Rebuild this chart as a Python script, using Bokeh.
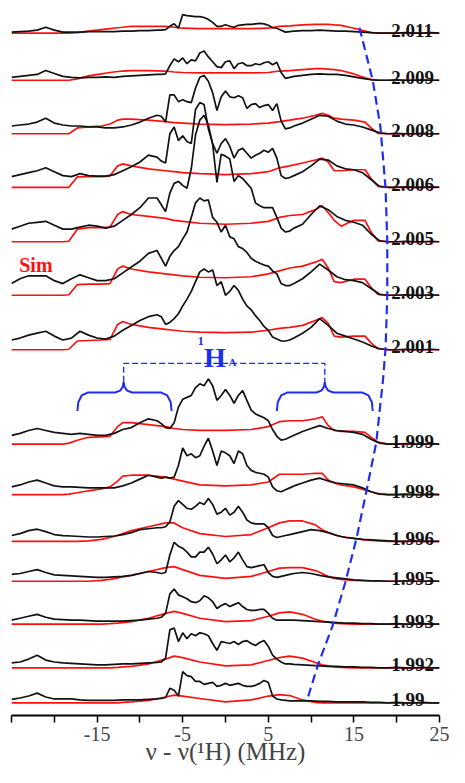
from bokeh.plotting import figure
from bokeh.models import Range1d, FixedTicker, ColumnDataSource
from bokeh.core.properties import value
from bokeh.embed import file_html
from bokeh.resources import INLINE

# ---------------- data ----------------
G_LABELS = ["2.011", "2.009", "2.008", "2.006", "2.005", "2.003", "2.001",
            "1.999", "1.998", "1.996", "1.995", "1.993", "1.992", "1.99"]

# vertical offset (baseline) of each stacked spectrum
OFFSETS = [701.5, 653, 598, 543, 487, 432, 376, 279, 227, 179, 138, 94, 49, 13]

# frequency grid of the experimental traces (MHz)
X_EXP = ([-25, -24, -23, -22, -21, -20, -19, -18, -17, -16, -15, -14, -13, -12, -11, -10, -9] +
         [-8, -7.5, -7, -6.5, -6, -5.5, -5, -4.5, -4, -3.5, -3, -2.5, -2, -1.5, -1, -0.5, 0,
          0.5, 1, 1.5, 2, 2.5, 3, 3.5, 4, 4.5, 5, 5.5, 6, 6.5, 7, 7.5, 8] +
         [9, 10, 11, 12, 13, 14, 15, 16, 17, 18, 19, 20, 21, 22, 23, 24, 25])

EXP = {
    "2.011": [1, 1.5, 2, 3, 6, 3, 1, 1, 1, 1.5, 1.5, 1.5, 1.5, 2, 2, 2.5, 2.5,
              3, 3, 3.5, 7, 9.5, 5, 19, 18, 17.5, 17, 17, 16, 14, 11, 7, 7, 8.5, 7, 6, 8, 8.5, 9, 9, 9.5, 10, 9.5, 8, 5.5, 5, 3, 1, 1.5, 2,
              2.5, 2.5, 3, 2.5, 2, 2, 1.5, 1, 0.5, 0, 0, 0, 0.5, 0, 0, 0.5, 0],
    "2.009": [3, 4, 5, 6, 10, 7, 4, 3, 2.5, 3, 3, 3.5, 3, 4, 4.5, 5, 5.5,
              6, 6, 6.5, 15, 22, 19, 23, 17, 21, 20, 28, 30, 24, 19, 14, 13, 19, 20, 12, 17, 18, 15, 15, 17, 16, 18, 19, 16, 18.5, 8, 2, 3, 4,
              5, 6, 6.5, 6, 6, 5, 3.5, 2, 0.5, 0, 0, 0.5, 0, 0, 0.5, 0, 0],
    "2.008": [8, 9, 10, 12, 16, 11, 9, 8, 8, 7, 7, 6, 6, 7, 9, 12, 16,
              19, 18, 12, 40, 40, 33, 35, 33, 32, 47, 58, 60, 54, 42, 24, 38, 44, 38, 37, 39, 37, 26, 30, 31, 27, 29, 30, 24, 31, 13, 5, 6, 8,
              11, 15, 19, 18, 13, 10, 9, 7, 4, 1, 0, 0.5, 0, 0, 0.5, 0, 0],
    "2.006": [11, 13, 15, 17, 20, 16, 12, 11, 14, 12, 11.5, 11.5, 13, 17, 21, 26, 33,
              31, 27, 25, 55, 62, 48, 53, 47, 45, 80, 87, 85, 60, 45, 35, 45, 50, 42, 30, 38, 40, 35, 30, 33, 35, 38, 36, 40, 30, 12, 9, 10, 12,
              16, 22, 29, 28, 22, 19, 18, 15, 8, 1, 0, 0, 0.5, 0, 0, 0.5, 0],
    "2.005": [13, 16, 19, 20, 21, 17, 13, 13, 15, 17, 16, 14, 16, 22, 28, 35, 45,
              45, 38, 31, 50, 60, 62, 58, 55, 75, 110, 125, 130, 120, 100, 61, 90, 88, 85, 62, 68, 65, 60, 55, 40, 37, 35, 35, 35, 25, 14, 10, 11, 14,
              18, 28, 37, 33, 26, 22, 20, 17, 8, 1, 0, 0, 0.5, 0, 0, 0.5, 0],
    "2.003": [12, 17, 20, 20, 20, 15, 12, 17, 21, 18, 15, 15, 17, 23, 29, 35, 43,
              46, 38, 30, 40, 46, 50, 58, 65, 80, 95, 100, 97, 98, 80, 75, 65, 72, 60, 58, 50, 48, 44, 38, 35, 33, 31, 30, 25, 22, 12, 10, 10, 12,
              17, 24, 32, 26, 19, 16, 15, 13, 7, 1, 0, 0, 0.5, 0, 0, 0.5, 0],
    "2.001": [10, 12, 15, 17, 19, 14, 10, 12, 19, 15, 12, 11, 14, 20, 25, 30, 34,
              36, 34, 26, 28, 32, 37, 45, 52, 60, 70, 80, 83, 80, 82, 66, 70, 56, 60, 66, 61, 52, 45, 41, 35, 30, 24, 20, 13, 11, 9, 9, 10, 12,
              17, 23, 32, 25, 17, 14, 11, 8, 4, 1, 0, 0, 0.5, 0, 0, 0.5, 0],
    "1.999": [9, 11, 14, 16, 14, 12, 11, 10, 11, 10, 9, 9, 11, 15, 17, 22, 26,
              24, 21, 17, 16, 22, 38, 46, 48, 50, 58, 62, 60, 67, 60, 45, 50, 56, 50, 42, 50, 55, 45, 35, 31, 29, 27, 24, 15, 8, 4, 5, 7, 9,
              13, 16, 19, 16, 14, 13, 12, 10, 5, 1, 0, 0, 0.5, 0, 0, 0.5, 0],
    "1.998": [8, 10, 13, 15, 12, 9, 8, 8, 7.5, 7, 7, 7, 7, 9, 12, 16, 20,
              18, 17, 18, 17, 18, 30, 48, 40, 42, 38, 40, 50, 58, 45, 30, 45, 43, 40, 32, 45, 42, 30, 25, 23, 22, 21, 18, 8, 4, 3, 5, 7, 9,
              12, 15, 17, 14, 12, 11, 10, 7, 3, 0.5, 0, 0, 0.5, 0, 0, 0.5, 0],
    "1.996": [6, 8, 11, 12.5, 10, 7, 6, 5.5, 5, 4.5, 4.5, 5, 5.5, 7, 9, 12, 13,
              14, 14, 15, 20, 36, 42, 38, 34, 33, 36, 40, 38, 44, 38, 28, 30, 34, 27, 30, 36, 30, 22, 19, 18, 18, 18, 14, 6, 4, 5, 6, 7, 8,
              10, 12, 11, 9, 6, 4, 3, 2, 1.5, 1, 0.5, 0, 0, 0.5, 0, 0, 0],
    "1.995": [7, 8, 10, 12, 9, 6.5, 6, 5.5, 5, 4.5, 4, 4, 4.5, 5, 6, 8, 10,
              9, 8, 9, 27, 40, 36, 34, 30, 25, 25, 30, 30, 35, 28, 18, 22, 27, 20, 24, 30, 22, 15, 14, 15, 16, 17, 9, 5, 4, 5, 6, 7, 8,
              9, 8, 6, 4.5, 3.5, 2.5, 1.5, 1, 0.5, 0.5, 0, 0, 0.5, 0, 0, 0.5, 0],
    "1.993": [4, 6, 8, 10, 7, 5, 4.5, 4, 4, 3.5, 3, 3, 3, 3, 3.5, 4, 5,
              6, 7, 11, 31, 36, 30, 28, 26, 23, 22, 24, 29, 27, 23, 16, 19, 21, 18, 20, 22, 18, 15, 14, 14, 15, 15, 11, 6, 4, 4, 4, 4, 4,
              3.5, 3, 2.5, 2, 1.5, 1, 1, 0.5, 0.5, 0, 0, 0.5, 0, 0, 0.5, 0, 0],
    "1.992": [5, 6, 9, 13, 8, 6, 5, 4.5, 4, 3.5, 3, 3, 3.5, 4, 4, 4.5, 5,
              5.5, 6, 10, 39, 41, 27, 36, 30, 35, 33, 36, 35, 33, 25, 18, 27, 26, 25, 27, 24, 27, 28, 25, 23, 26, 28, 22, 13, 9, 6, 4, 4, 3.5,
              3, 2.5, 2, 1.5, 1.5, 1, 1, 0.5, 0.5, 0, 0, 0.5, 0, 0, 0.5, 0, 0],
    "1.99": [3.5, 5, 7, 10, 6, 4, 4, 4, 3, 2.5, 2.5, 2.5, 2.5, 3, 3, 3, 3.5,
             4, 4.5, 5.5, 15, 13, 7, 32, 28, 27, 22, 22, 19, 20, 21, 17, 18, 20, 18, 19, 20, 18, 17, 17, 18, 20, 23, 21, 7, 4, 3, 2.5, 2, 2,
             2, 2, 1.5, 1.5, 1, 1, 1, 1, 0.5, 0.5, 0, 0.5, 0, 0, 0.5, 0, 0],
}

# frequency knots of the simulated traces (MHz)
X_SIM = [-25, -19, -18.3, -17.3, -16, -14.5, -13.5, -12.6, -12, -11, -9, -7, -6, -5, -3, 0,
         3, 5, 6.3, 7.5, 9, 10.5, 11.3, 12, 12.7, 13.5, 15, 16.3, 17, 17.8, 19, 25]

SIM = {
    "2.011": [0, 0, 0, 0.5, 2, 3.5, 4.5, 5.5, 6, 7, 7, 7, 6, 5, 4.5, 4.5, 4.5, 5, 7, 7.5, 8.5, 9, 9, 9, 8.5, 8, 5, 2, 0.5, 0, 0, 0],
    "2.009": [0, 0, 0, 1.5, 4.5, 6.5, 8, 9, 9.5, 10, 10, 9.5, 8.5, 8, 7.5, 7.5, 7.5, 8, 9.5, 10, 11, 12, 12, 11.5, 11, 10, 6.5, 2.5, 1, 0, 0, 0],
    "2.008": [0, 0, 0, 6, 7, 8, 10, 14, 15, 15, 14, 12.5, 11.5, 11, 10, 9.5, 10, 11, 12.5, 14, 16, 19, 21, 19, 16, 15, 14, 12, 6, 0.5, 0, 0],
    "2.006": [0, 0, 0, 10.7, 11, 11, 11.5, 22, 24, 22, 19, 17, 16, 15, 14, 13, 14, 16, 20, 22, 25, 28, 30, 26, 17, 17, 18, 18, 9, 1, 0, 0],
    "2.005": [0, 0, 0.5, 13, 14.5, 14.5, 15, 28, 31, 28, 26, 24, 22, 21, 19, 18, 19, 21, 25, 27, 28, 33, 37, 30, 22, 16, 22, 22, 10, 1, 0, 0],
    "2.003": [0, 0, 0.5, 11, 11.5, 11.5, 12, 27, 30, 27, 24, 22, 21, 20, 18.5, 18, 19, 22, 25, 28, 30, 34, 37, 28, 14, 13, 16.5, 16.5, 8, 1, 0, 0],
    "2.001": [0, 0, 0.5, 9, 9.5, 10, 10.5, 26, 29, 26, 23, 21, 20, 19, 18, 17.5, 18, 20, 22, 23, 25, 30, 33, 27, 14, 13, 14, 14, 7, 1, 0, 0],
    "1.999": [0, 0, 1, 4, 7, 7.5, 8, 18, 22, 22, 20, 18, 16, 15, 14, 14, 15, 18, 23, 24, 24, 26, 28, 19, 14, 13, 13, 12, 7, 2, 0, 0],
    "1.998": [0, 0, 0.5, 2, 4, 6, 8, 14, 19, 20, 20, 18, 16, 14, 10, 9, 10, 13, 21, 21, 21, 22, 22, 15, 12, 10, 8, 5, 3, 1, 0, 0],
    "1.996": [0, 0, 0, 0, 0.5, 2, 4, 6, 8, 11, 15, 19, 19, 14, 8, 5, 7, 14, 19, 21, 21, 17, 12, 9, 7, 5, 3, 1.5, 1, 0.5, 0, 0],
    "1.995": [0, 0, 0, 0, 0, 1, 2, 3.5, 4.5, 6, 10, 14, 15, 12, 6, 3, 5, 10, 13.5, 14, 14, 11, 8, 5, 3, 2, 1, 0.5, 0, 0, 0, 0],
    "1.993": [0, 0, 0, 0, 0, 0, 0.5, 1, 1.5, 2.5, 6, 11, 13, 11, 6, 2.5, 3.5, 8, 11.5, 12.5, 10, 5, 3, 2, 1, 0.5, 0, 0, 0, 0, 0, 0],
    "1.992": [0, 0, 0, 0, 0, 0, 0, 0.5, 1, 1.5, 4, 9, 12, 10.5, 6, 2, 3, 7.5, 10.5, 12, 10, 5.5, 3, 2, 1, 0.5, 0, 0, 0, 0, 0, 0],
    "1.99": [0, 0, 0, 0, 0, 0, 0, 0, 0.5, 1, 2.5, 6, 8, 7, 4.5, 1, 3, 7, 8.5, 7.5, 3, 0.5, 0, 0, 0, 0, 0, 0, 0, 0, 0, 0],
}

# onset of the high-frequency edge for each trace (blue dashed guide)
EDGE_MHZ = [15.65, 17.2, 18.1, 18.7, 18.9, 18.9, 18.7, 18.4, 17.6, 16.4, 15.3, 14.0, 12.5, 10.8, 9.5]
EDGE_Y = [707, 653, 605, 542, 487, 432, 378, 345, 280, 228, 182, 137, 92, 52, 15]

# 1H_A coupling bracket: (outer edge, centre, inner edge) of each brace
BRACE_LEFT = [-17.3, -11.9, -6.3]
BRACE_RIGHT = [17.2, 11.6, 6.0]

X_TICKS = [-25, -20, -15, -10, -5, 0, 5, 10, 15, 20, 25]
X_TICK_LABELS = {-25: "", -20: "", -15: "-15", -10: "", -5: "-5", 0: "",
                 5: "5", 10: "", 15: "15", 20: "", 25: "25"}
X_TITLE = "ν - ν(¹H) (MHz)"

BLACK = "#111111"
RED = "#ff1010"
BLUE = "#1f2cf2"
SERIF = "Liberation Serif"

# ---------------- figure ----------------
p = figure(width=449, height=767, x_range=Range1d(-25, 25), y_range=Range1d(0, 735),
           output_backend="svg", toolbar_location=None,
           min_border_left=11, min_border_right=10, min_border_top=0, min_border_bottom=47)
p.xgrid.visible = False
p.ygrid.visible = False
p.yaxis.visible = False
p.outline_line_color = None

xa = p.xaxis[0]
xa.ticker = FixedTicker(ticks=X_TICKS)
xa.major_label_overrides = X_TICK_LABELS
xa.minor_tick_line_color = None
xa.major_tick_out = 7
xa.major_tick_in = 0
xa.axis_line_width = 2
xa.major_tick_line_width = 1.5
xa.major_label_text_font = SERIF
xa.major_label_text_font_size = "20px"
xa.major_label_standoff = 4
xa.axis_label = X_TITLE
xa.axis_label_text_font = SERIF
xa.axis_label_text_font_size = "25px"
xa.axis_label_text_font_style = "normal"
xa.axis_label_standoff = -6

# spectra
for g, off in zip(G_LABELS, OFFSETS):
    p.line(X_SIM, [off + v for v in SIM[g]], line_color=RED, line_width=1.7)
    p.line(X_EXP, [off + v for v in EXP[g]], line_color=BLACK, line_width=1.7)

# blue dashed edge guide
p.line(EDGE_MHZ, EDGE_Y, line_color=BLUE, line_width=2.2, line_dash="9 5")

# braces
tip, bar, foot = 343, 332, 313
def brace(a, c, b):
    xs = [a, a + 0.1, a + 0.5, a + 1.2, c - 1.0, c - 0.4, c - 0.1, c,
          c + 0.1, c + 0.4, c + 1.0, b - 1.2, b - 0.5, b - 0.1, b]
    ys = [foot, foot + 9, bar - 3, bar, bar, bar + 2, bar + 6, tip,
          bar + 6, bar + 2, bar, bar, bar - 3, foot + 9, foot]
    return xs, ys

for br in (BRACE_LEFT, BRACE_RIGHT):
    a, c, b = min(br[0], br[2]), br[1], max(br[0], br[2])
    xs, ys = brace(a, c, b)
    p.line(xs, ys, line_color=BLUE, line_width=2)

# dashed connector of the two brace centres
p.line([BRACE_LEFT[1], BRACE_LEFT[1], BRACE_RIGHT[1], BRACE_RIGHT[1]], [tip, 362, 362, tip],
       line_color=BLUE, line_width=1.4, line_dash="6 3")

# 1H_A label
p.text(x=[-3.25], y=[385], text=["1"], text_color=BLUE, text_font=value(SERIF),
       text_font_style="bold", text_font_size="12px", text_baseline="alphabetic")
p.text(x=[-2.5], y=[368], text=["H"], text_color=BLUE, text_font=value(SERIF),
       text_font_style="bold", text_font_size="28px", text_baseline="alphabetic")
p.text(x=[0.35], y=[363], text=["A"], text_color=BLUE, text_font=value(SERIF),
       text_font_style="bold", text_font_size="11px", text_baseline="alphabetic")

# Sim label
p.text(x=[-24.1], y=[463], text=["Sim"], text_color=RED, text_font=value(SERIF),
       text_font_style="bold", text_font_size="20px", text_baseline="alphabetic")

# g-value labels
lab_src = ColumnDataSource(dict(x=[19.37] * len(G_LABELS), y=[o + 3 for o in OFFSETS], text=G_LABELS))
p.text(x="x", y="y", text="text", source=lab_src, text_color=BLACK, text_font=value(SERIF),
       text_font_style="bold", text_font_size="19px", text_baseline="alphabetic", text_align="left")

open("out.html", "w").write(file_html(p, INLINE))
